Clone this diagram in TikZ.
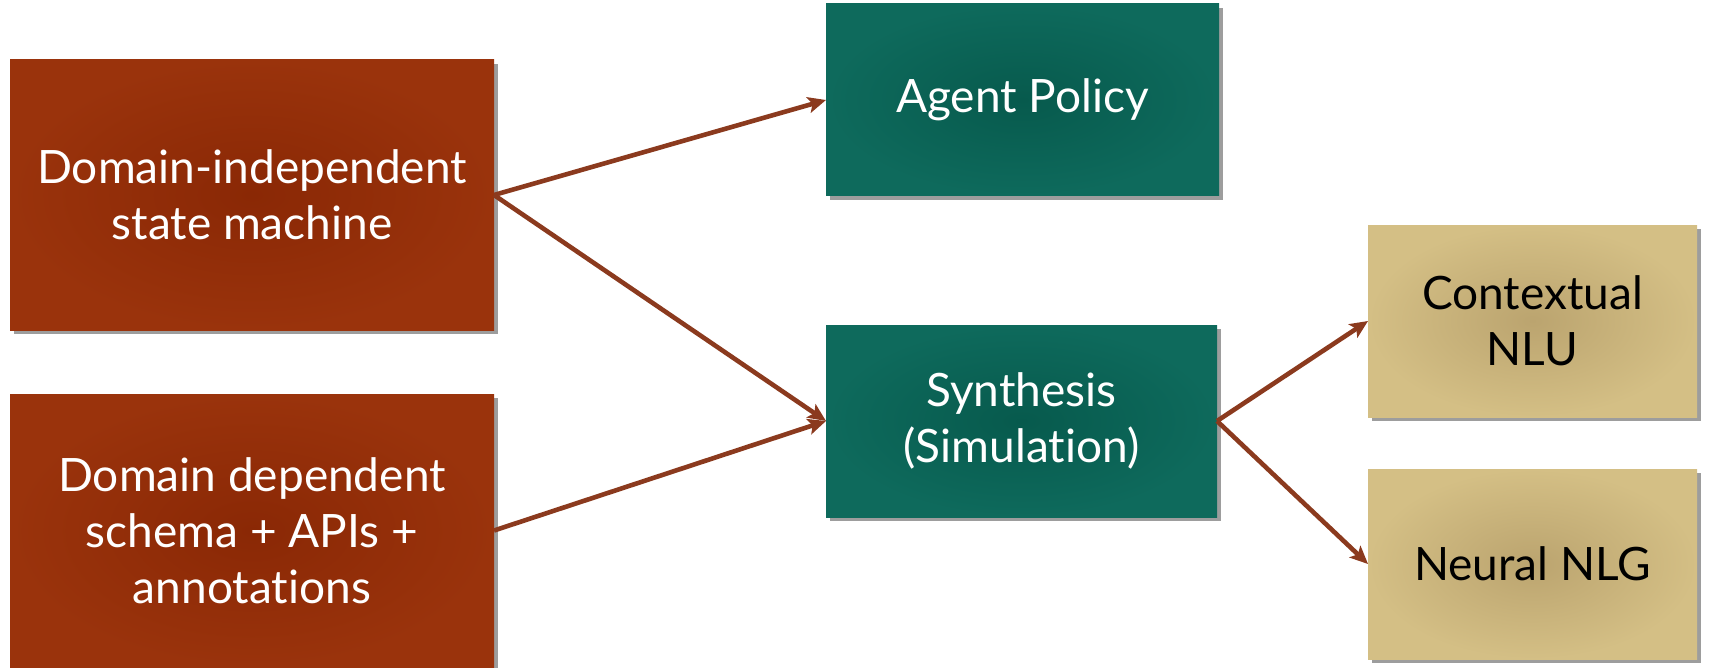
\documentclass[tikz,border=0pt]{standalone}
\usepackage{fontspec}
\setmainfont{Lato}[Ligatures={NoCommon,NoRare}]
\usetikzlibrary{arrows.meta,shadows}

\definecolor{rustin}{HTML}{8A2805}
\definecolor{rustout}{HTML}{9A330C}
\definecolor{tealin}{HTML}{075A4D}
\definecolor{tealout}{HTML}{0E6A5C}
\definecolor{sandin}{HTML}{BBA46F}
\definecolor{sandout}{HTML}{D4BF85}
\definecolor{linkcol}{HTML}{8B3A1E}

\tikzset{
  block/.style={rectangle, inner sep=0pt, outer sep=0pt, align=center,
    font=\fontsize{23}{28}\selectfont,
    drop shadow={shadow xshift=2pt, shadow yshift=-2pt, opacity=0.55, fill=black!70}},
  rustbox/.style={block, text=white, inner color=rustin, outer color=rustout},
  tealbox/.style={block, text=white, inner color=tealin, outer color=tealout},
  sandbox/.style={block, text=black, inner color=sandin, outer color=sandout},
  link/.style={draw=linkcol, line width=2.3pt,
    -{Stealth[length=9pt, width=8pt, inset=2pt]}}
}

\begin{document}
\begin{tikzpicture}[x=0.5pt, y=-0.5pt]
  \useasboundingbox (0,0) rectangle (1732,668);

  % inputs
  \node[rustbox, minimum width=242pt, minimum height=135pt] (indep) at (252,195)
    {Domain-independent\\state machine};
  \node[rustbox, minimum width=242pt, minimum height=136.5pt] (dep) at (252,530.5)
    {Domain dependent\\schema + APIs +\\annotations};

  % middle column
  \node[tealbox, minimum width=196.5pt, minimum height=96pt] (policy) at (1022.5,100)
    {Agent Policy};
  \node[tealbox, minimum width=195.5pt, minimum height=96pt] (synth) at (1021.5,421)
    {Synthesis\\(Simulation)};

  % outputs
  \node[sandbox, minimum width=164.5pt, minimum height=96pt] (nlu) at (1532.5,321)
    {Contextual\\NLU};
  \node[sandbox, minimum width=164.5pt, minimum height=95pt] (nlg) at (1532.5,564)
    {Neural NLG};

  % connectors
  \draw[link] (indep.east) -- (policy.west);
  \draw[link] (indep.east) -- (synth.west);
  \draw[link] (dep.east) -- (synth.west);
  \draw[link] (synth.east) -- (nlu.west);
  \draw[link] (synth.east) -- (nlg.west);
\end{tikzpicture}
\end{document}
